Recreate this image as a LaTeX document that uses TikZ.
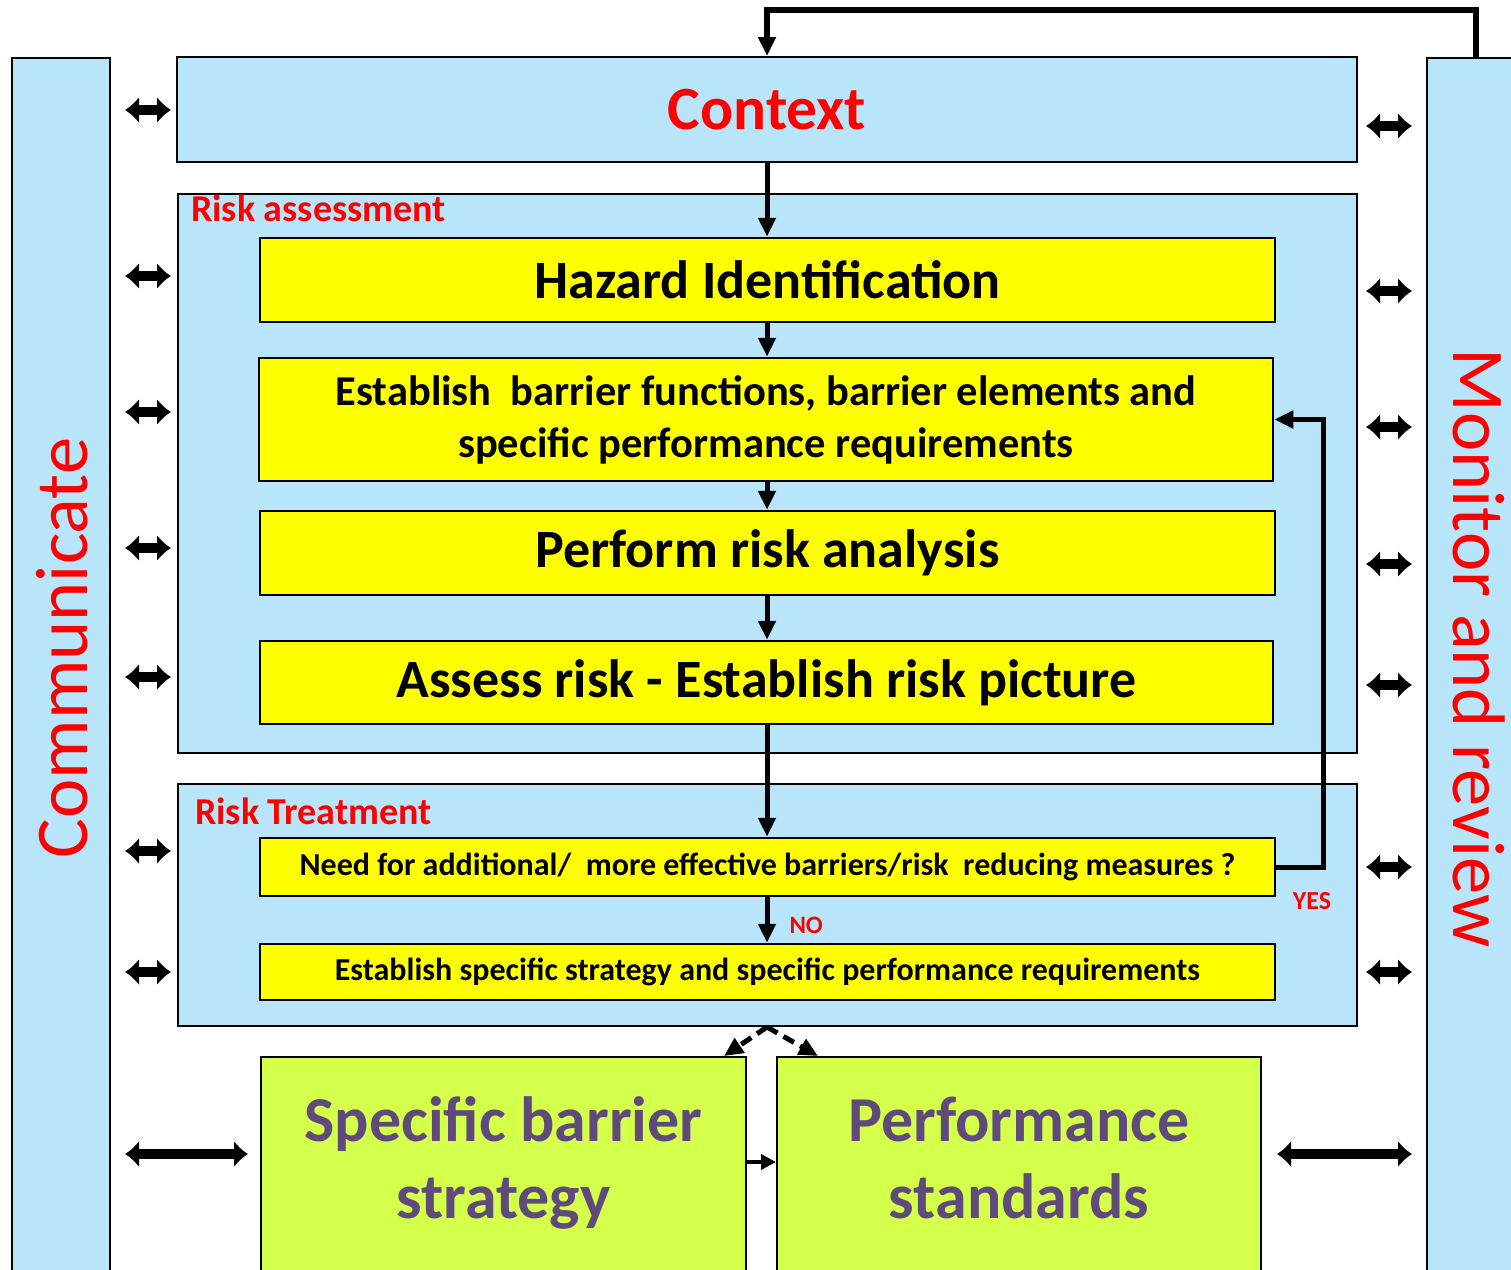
\documentclass[tikz,border=0pt]{standalone}
\usepackage{fontspec}
\setmainfont{Carlito}
\usetikzlibrary{arrows.meta, positioning, calc}
\definecolor{panelblue}{HTML}{B9E5FB}
\definecolor{stepyellow}{HTML}{FFFF00}
\definecolor{outgreen}{HTML}{D4FF4B}
\definecolor{outpurple}{HTML}{604A7B}
\definecolor{labelred}{HTML}{FF0000}

\begin{document}
\begin{tikzpicture}[x=1pt, y=-1pt,
  panel/.style={draw, line width=2pt, fill=panelblue, inner sep=0pt},
  stepbox/.style={draw, line width=2.5pt, fill=stepyellow, align=center, inner sep=0pt},
  outbox/.style={draw, line width=2pt, fill=outgreen, align=center, text=outpurple, inner sep=0pt, font=\bfseries\fontsize{64}{77}\selectfont},
  flow/.style={-{Triangle[length=19pt,width=17pt]}, line width=5pt},
  dblarrow/.style={{Latex[length=14pt,width=27pt]}-{Latex[length=14pt,width=27pt]}, line width=10pt},
  redlabel/.style={text=labelred, inner sep=0pt}
]
\useasboundingbox (0,0) rectangle (1511,1269);
\fill[white] (0,0) rectangle (1511,1269);

% side bars
\node[panel, minimum width=98pt, minimum height=1240pt, anchor=north] (commbar) at (61,57) {};
\node[panel, minimum width=98pt, minimum height=1240pt, anchor=north west] (monbar) at (1426,57) {};
\node[redlabel, rotate=90, font=\fontsize{74.5}{80}\selectfont] (commtxt) at (62,648) {Communicate};
\node[redlabel, rotate=-90, font=\fontsize{74.5}{80}\selectfont] (montxt) at (1479,648) {Monitor and review};

% context
\node[panel, minimum width=1180pt, minimum height=105pt, text=labelred, font=\bfseries\fontsize{61.5}{70}\selectfont] (context) at (767,109.5) {Context};

% risk assessment
\node[panel, minimum width=1179pt, minimum height=559pt, anchor=north west] (riskassess) at (177,193) {};
\node[redlabel, anchor=north west, font=\bfseries\fontsize{38}{44}\selectfont] (assesslbl) at (191,195) {Risk assessment};
\node[stepbox, minimum width=1015pt, minimum height=84pt, font=\bfseries\fontsize{54}{60}\selectfont] (hazard) at (767.5,280) {Hazard Identification};
\node[stepbox, minimum width=1014pt, minimum height=123pt, font=\bfseries\fontsize{42.5}{52}\selectfont] (barrier) at (766,419.5) {Establish\ \ barrier functions, barrier elements and\\specific performance requirements};
\node[stepbox, minimum width=1015pt, minimum height=84pt, font=\bfseries\fontsize{54}{60}\selectfont] (perform) at (767.5,553) {Perform risk analysis};
\node[stepbox, minimum width=1013pt, minimum height=83pt, font=\bfseries\fontsize{54}{60}\selectfont] (assess) at (766.5,682.5) {Assess risk - Establish risk picture};

% risk treatment
\node[panel, minimum width=1179pt, minimum height=242pt, anchor=north west] (treat) at (177,783) {};
\node[redlabel, anchor=north west, font=\bfseries\fontsize{38}{44}\selectfont] (treatlbl) at (195,798) {Risk Treatment};
\node[stepbox, minimum width=1015pt, minimum height=58pt, font=\bfseries\fontsize{32}{38}\selectfont] (need) at (767.5,867) {Need for additional/\ \ more effective barriers/risk\ \ reducing measures ?};
\node[stepbox, minimum width=1015pt, minimum height=56pt, font=\bfseries\fontsize{32}{38}\selectfont] (strategy) at (767.5,972) {Establish specific strategy and specific performance requirements};

% outputs
\node[outbox, minimum width=485pt, minimum height=216pt, anchor=north west] (sbs) at (260,1056) {\strut Specific barrier\\strategy\strut};
\node[outbox, minimum width=484pt, minimum height=216pt, anchor=north west] (perfstd) at (776,1056) {\strut Performance\\standards\strut};

% flow
\coordinate (looptop) at (767,10);
\draw[flow, line width=6pt] (monbar.north) |- (looptop) -- (context.north);
\draw[flow] (context.south) -- (context.south |- hazard.north);
\draw[flow] (hazard.south -| context.south) -- (context.south |- barrier.north);
\draw[flow] (barrier.south -| context.south) -- (context.south |- perform.north);
\draw[flow] (perform.south -| context.south) -- (context.south |- assess.north);
\draw[flow] (assess.south -| context.south) -- (context.south |- need.north);
\draw[flow] (need.south -| context.south) -- node[redlabel, right=20pt, yshift=-5pt, font=\bfseries\fontsize{25}{30}\selectfont] (nolbl) {NO} (context.south |- strategy.north);
\coordinate (yesturn) at (1323,867);
\draw[flow] (need.east) -- (yesturn) |- (barrier.east);
\node[redlabel, font=\bfseries\fontsize{26}{30}\selectfont] (yeslbl) at (1312,901) {YES};
\coordinate (splitpt) at (767,1027);
\draw[flow, dash pattern=on 12pt off 7pt] (splitpt) -- ([xshift=-23pt]sbs.north east);
\draw[flow, dash pattern=on 12pt off 7pt] (splitpt) -- ([xshift=42pt]perfstd.north west);
\draw[-{Triangle[length=15pt,width=15pt]}, line width=3.5pt] (sbs.east |- 0,1162) -- (perfstd.west |- 0,1162);

% links to the side bars
\foreach \ya in {110,276,412,548,677,851,972}
  \draw[dblarrow, shorten <=14pt, shorten >=5pt] (commbar.east |- 0,\ya) -- (context.west |- 0,\ya);
\foreach \yb in {126,291,427,564,685,867,972}
  \draw[dblarrow, shorten <=8pt, shorten >=14pt] (context.east |- 0,\yb) -- (monbar.west |- 0,\yb);
\draw[dblarrow, shorten <=14pt, shorten >=12pt] (commbar.east |- 0,1154) -- (sbs.west |- 0,1154);
\draw[dblarrow, shorten <=15pt, shorten >=14pt] (perfstd.east |- 0,1154) -- (monbar.west |- 0,1154);
\end{tikzpicture}
\end{document}
